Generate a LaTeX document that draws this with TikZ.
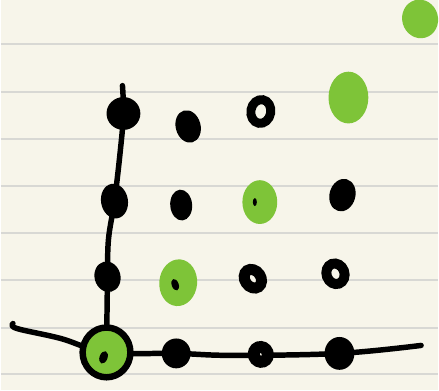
\documentclass[tikz,border=0pt]{standalone}
\usetikzlibrary{shapes.geometric,backgrounds}
\definecolor{paper}{RGB}{247,245,234}
\definecolor{ruling}{RGB}{216,216,212}
\definecolor{leaf}{RGB}{126,196,56}
\newcommand{\pxu}{0.02cm}
\tikzset{
  dot/.style={ellipse, inner sep=0pt},
  blackdot/.style={dot, fill=black},
  ringdot/.style={dot, draw=black, fill=paper},
  greendot/.style={dot, fill=leaf},
  axis/.style={line width=0.11cm, line cap=round, line join=round},
}
\begin{document}
\begin{tikzpicture}[x=\pxu, y=-\pxu]
        % paper with ruled lines
        \begin{scope}[on background layer]
            \fill[paper] (0,0) rectangle (439,392);
            \foreach \yy in {44.5,92,139.5,187,234,281.5,329,376}
                \draw[ruling, line width=0.04cm] (0,\yy) -- (439,\yy);
        \end{scope}
        \useasboundingbox (0,0) rectangle (439,392);

        % origin
        \node[greendot, draw=black, line width=0.13cm, minimum width=48*\pxu, minimum height=50*\pxu] (o) at (106,354) {};
        \fill[black, rotate around={-20:(103,359)}] (103,359) ellipse (4 and 6.5);

        % bottom row (on the x axis)
        \node[blackdot, minimum width=29*\pxu, minimum height=30*\pxu] (d10) at (176,355) {};
        \node[ringdot, line width=12*\pxu, minimum width=14*\pxu, minimum height=15*\pxu, rotate=20] (d20) at (261,356) {};
        \node[blackdot, minimum width=30*\pxu, minimum height=33*\pxu] (d30) at (340,355) {};

        % left column (on the y axis)
        \node[blackdot, minimum width=26*\pxu, minimum height=31*\pxu, rotate=15] (d01) at (107,278) {};
        \node[blackdot, minimum width=27*\pxu, minimum height=35*\pxu, rotate=10] (d02) at (114,202) {};
        \node[blackdot, minimum width=34*\pxu, minimum height=33*\pxu] (d03) at (123,114) {};
        \coordinate (ytip) at (122,86);

        % inner grid
        \node[greendot, minimum width=38*\pxu, minimum height=47*\pxu, rotate=-5] (d11) at (178,284) {};
        \fill[black, rotate around={20:(175,286)}] (175,286) ellipse (3.5 and 6);
        \node[ringdot, line width=11*\pxu, minimum width=16*\pxu, minimum height=20*\pxu, rotate=35] (d21) at (253,280) {};
        \node[ringdot, line width=10*\pxu, minimum width=18*\pxu, minimum height=21*\pxu, rotate=20] (d31) at (336,275) {};

        \node[blackdot, minimum width=22*\pxu, minimum height=31*\pxu, rotate=5] (d12) at (181,206) {};
        \node[greendot, minimum width=35*\pxu, minimum height=44*\pxu] (d22) at (260,203) {};
        \fill[black] (255,203) ellipse (2 and 4);
        \node[blackdot, minimum width=26*\pxu, minimum height=33*\pxu, rotate=-15] (d32) at (343,196) {};

        \node[blackdot, minimum width=25*\pxu, minimum height=33*\pxu, rotate=15] (d13) at (188,127) {};
        \node[ringdot, line width=9*\pxu, minimum width=20*\pxu, minimum height=24*\pxu, rotate=-10] (d23) at (261,112) {};
        \node[greendot, minimum width=40*\pxu, minimum height=52*\pxu] (d33) at (349,98) {};

        % extra green dot top right
        \node[greendot, minimum width=36*\pxu, minimum height=39*\pxu, rotate=15] (extra) at (421,19) {};

        % hand drawn axes
        \begin{scope}[on background layer]
            \draw[axis] plot[smooth, tension=0.6] coordinates
                {(ytip) (d03.center) (120,150) (d02.center) (108,240) (d01.center) (o.center)};
            \draw[axis] plot[smooth, tension=0.6] coordinates
                {(12,325) (16,330) (60,340) (o.center) (d10.center) (233,357) (d30.center) (422,347)};
        \end{scope}
\end{tikzpicture}
\end{document}
